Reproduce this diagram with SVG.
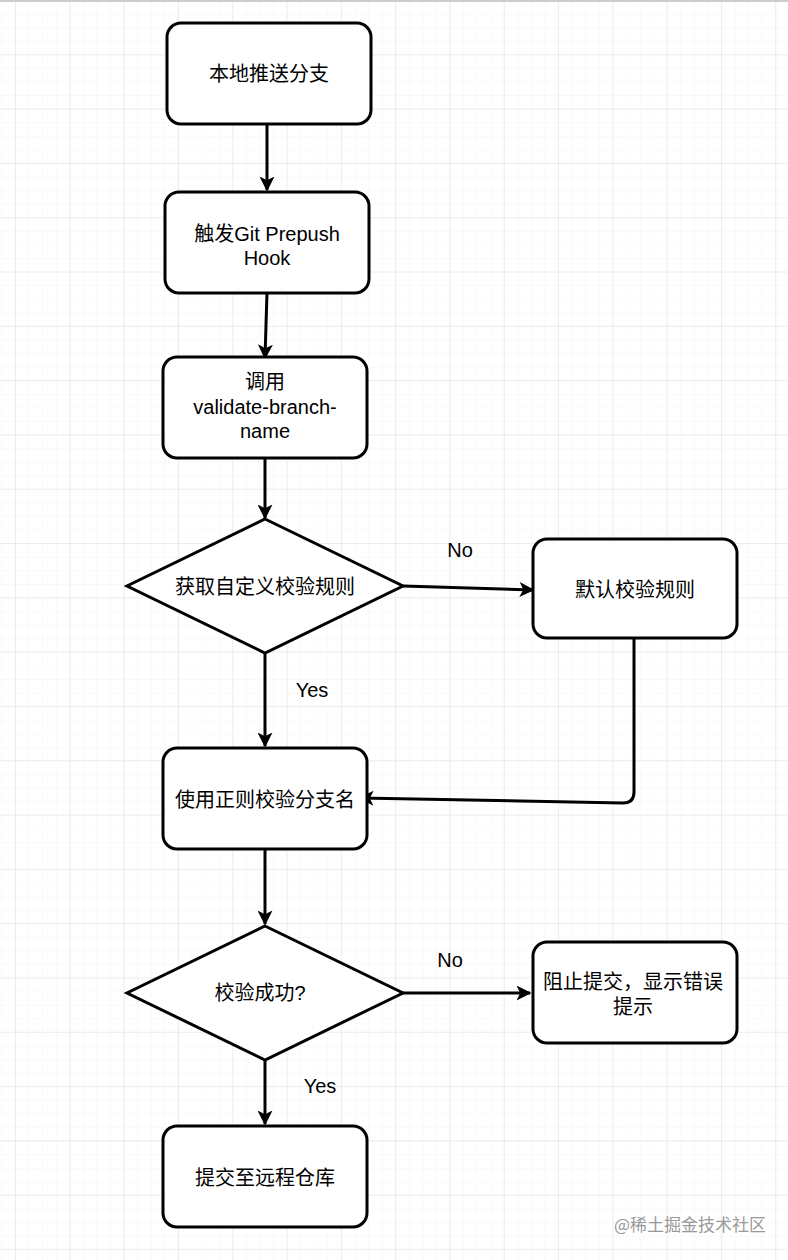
<svg xmlns="http://www.w3.org/2000/svg" width="788" height="1260" viewBox="0 0 788 1260">
<defs>
<pattern id="minor" x="15" y="0" width="13.58" height="13.58" patternUnits="userSpaceOnUse"><path d="M0 0H13.58M0 0V13.58" stroke="#f3f3f3" stroke-width="1" fill="none"/></pattern>
<pattern id="major" x="15" y="0" width="54.3" height="54.3" patternUnits="userSpaceOnUse"><path d="M0 0H54.3M0 0V54.3" stroke="#e0e0e0" stroke-width="1" fill="none"/></pattern>
<marker id="arr" viewBox="0 0 10 10" refX="9" refY="5" markerWidth="5" markerHeight="5" orient="auto"><path d="M0 0L10 5L0 10L2.5 5Z" fill="#000"/></marker>
</defs>
<style>
.n{fill:#fff;stroke:#000;stroke-width:3}
.t{font-family:"Liberation Sans","Noto Sans CJK SC",sans-serif;font-size:20px;fill:#000;text-anchor:middle}
.e{fill:none;stroke:#000;stroke-width:3;marker-end:url(#arr)}
</style>
<rect width="788" height="1260" fill="#fff"/>
<rect width="788" height="1260" fill="url(#minor)"/>
<rect width="788" height="1260" fill="url(#major)"/>
<rect width="788" height="2" fill="#ccc"/>
<g id="connectors">
<path class="e" d="M267 124V190"/>
<path class="e" d="M267 292L265 358"/>
<path class="e" d="M265 458V518"/>
<path class="e" d="M403 586L533 590"/>
<path class="e" d="M265 654V746"/>
<path class="e" d="M634 638V792Q634 803 623 803L360 798"/>
<path class="e" d="M265 850V924"/>
<path class="e" d="M403 993H530"/>
<path class="e" d="M265 1060V1124"/>
</g>
<g id="n1"><rect class="n" x="167" y="23" width="204" height="101" rx="14"/><text class="t" x="269" y="81">本地推送分支</text></g>
<g id="n2"><rect class="n" x="165" y="192" width="204" height="101" rx="14"/><text class="t" x="267" y="241">触发Git Prepush</text><text class="t" x="267" y="265">Hook</text></g>
<g id="n3"><rect class="n" x="163" y="357" width="204" height="101" rx="14"/><text class="t" x="265" y="389">调用</text><text class="t" x="265" y="414">validate-branch-</text><text class="t" x="265" y="438">name</text></g>
<g id="n4"><path class="n" d="M265 519L403 586L265 653L127 586Z"/><text class="t" x="265" y="594">获取自定义校验规则</text></g>
<g id="n5"><rect class="n" x="533" y="539" width="204" height="99" rx="14"/><text class="t" x="635" y="597">默认校验规则</text></g>
<g id="n6"><rect class="n" x="163" y="748" width="204" height="101" rx="14"/><text class="t" x="265" y="807">使用正则校验分支名</text></g>
<g id="n7"><path class="n" d="M265 926L403 993L265 1060L127 993Z"/><text class="t" x="260" y="1000">校验成功?</text></g>
<g id="n8"><rect class="n" x="533" y="942" width="204" height="101" rx="14"/><text class="t" x="633" y="989">阻止提交，显示错误</text><text class="t" x="613" y="1014" style="text-anchor:start">提示</text></g>
<g id="n9"><rect class="n" x="163" y="1126" width="204" height="101" rx="14"/><text class="t" x="265" y="1185">提交至远程仓库</text></g>
<text class="t" x="460" y="557">No</text>
<text class="t" x="312" y="697">Yes</text>
<text class="t" x="450" y="967">No</text>
<text class="t" x="320" y="1093">Yes</text>
<text x="690" y="1231" style="font-family:'Noto Sans CJK SC',sans-serif;font-size:17px;fill:#999;text-anchor:middle">@稀土掘金技术社区</text>
</svg>
